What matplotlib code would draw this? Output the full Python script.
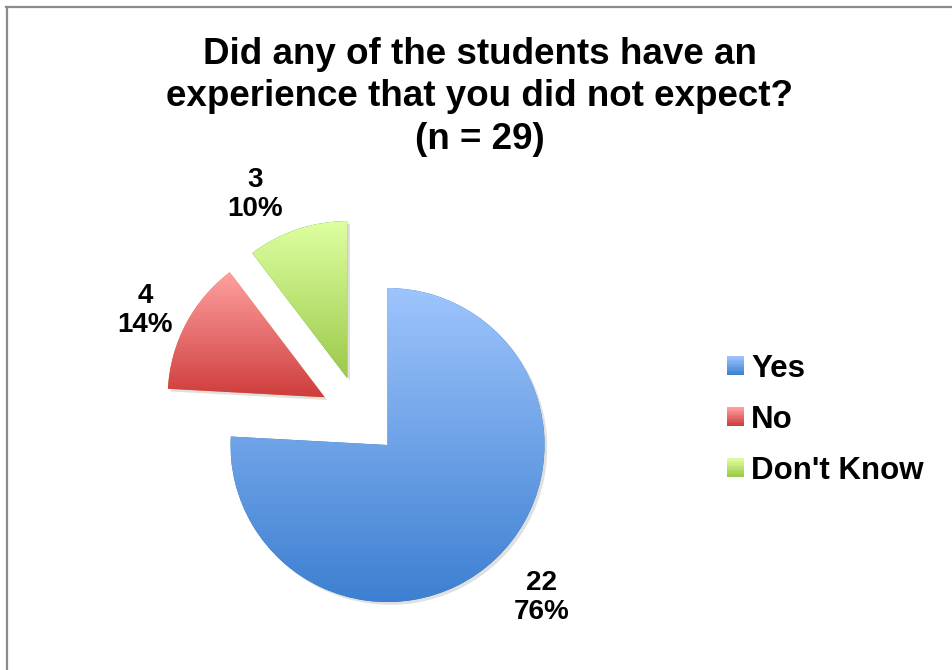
import numpy as np
import matplotlib
matplotlib.use('Agg')
import matplotlib.pyplot as plt
from matplotlib.patches import Rectangle, Shadow
from matplotlib.lines import Line2D
from matplotlib.legend_handler import HandlerBase

plt.rcParams['font.family'] = ['Liberation Sans', 'DejaVu Sans']

categories = ['Yes', 'No', "Don't Know"]
counts = [22, 4, 3]
title = 'Did any of the students have an\nexperience that you did not expect?\n(n = 29)'

# gradient colours (top, bottom) per slice
grad_top = [(0.62, 0.77, 0.99), (1.00, 0.63, 0.63), (0.87, 1.00, 0.63)]
grad_bot = [(0.24, 0.50, 0.82), (0.81, 0.24, 0.24), (0.61, 0.79, 0.29)]

# label placement (outside end), distance in radii and angle nudge in degrees
lab_dist = [1.38, 1.27, 1.31]
lab_nudge = [2, 2, 8]

W, H = 953, 670
R = 157
total = sum(counts)


def fmt(p):
    return f'{round(p * total / 100):d}\n{p:.0f}%'


class GradHandler(HandlerBase):
    def __init__(self, top, bot):
        super().__init__()
        self.top, self.bot = np.array(top), np.array(bot)

    def create_artists(self, legend, orig_handle, xdescent, ydescent,
                       width, height, fontsize, trans):
        n = 14
        arts = []
        for i in range(n):
            t = i / (n - 1)
            c = self.top * (1 - t) + self.bot * t
            r = Rectangle((-xdescent, -ydescent + height - (i + 1) * height / n),
                          width, height / n + 0.3, facecolor=c, edgecolor='none',
                          transform=trans)
            arts.append(r)
        return arts


fig = plt.figure(figsize=(W / 100, H / 100), dpi=100)
ax = fig.add_axes([0, 0, 1, 1])

wedges, texts, autotexts = ax.pie(
    counts, explode=[40, 40, 40], startangle=90, counterclock=False,
    radius=R, center=(360, 254), autopct=fmt, pctdistance=1.3,
    textprops=dict(fontsize=20, fontweight='bold', color='black', linespacing=1.15),
    wedgeprops=dict(linewidth=0))

for w, at, d, nd in zip(wedges, autotexts, lab_dist, lab_nudge):
    th = np.deg2rad((w.theta1 + w.theta2) / 2 + nd)
    cx, cy = w.center
    at.set_position((cx + d * R * np.cos(th), cy + d * R * np.sin(th)))

for w, top, bot in zip(wedges, grad_top, grad_bot):
    sh = Shadow(w, 2, -2)
    sh.set_facecolor('black')
    sh.set_alpha(0.12)
    sh.set_zorder(0)
    ax.add_patch(sh)
    ext = w.get_path().get_extents()
    t = np.linspace(0, 1, 256)[:, None, None]
    img = np.array(top)[None, None, :] * (1 - t) + np.array(bot)[None, None, :] * t
    im = ax.imshow(img, extent=[ext.x0, ext.x1, ext.y0, ext.y1], origin='upper',
                   aspect='auto', zorder=2, interpolation='bilinear')
    im.set_clip_path(w)

ax.set_xlim(0, W)
ax.set_ylim(0, H)
ax.axis('off')

fig.text(480 / W, 1 - 97 / H, title, ha='center', va='center', fontsize=26.5,
         fontweight='bold', linespacing=1.27)

handles = [Rectangle((0, 0), 1, 1) for _ in categories]
hmap = {h: GradHandler(t, b) for h, t, b in zip(handles, grad_top, grad_bot)}
fig.legend(handles, categories, handler_map=hmap, loc='upper left',
           bbox_to_anchor=(727 / W, 1 - 354 / H), frameon=False, borderpad=0,
           borderaxespad=0, prop=dict(size=22.5, weight='bold'),
           handlelength=0.55, handleheight=0.55, handletextpad=0.22,
           labelspacing=0.67)

fig.add_artist(Line2D([6 / W, 1], [1 - 7 / H, 1 - 7 / H], transform=fig.transFigure,
                      color='#8c8c8c', lw=1.6))
fig.add_artist(Line2D([7 / W, 7 / W], [0, 1 - 7 / H], transform=fig.transFigure,
                      color='#8c8c8c', lw=1.6))

fig.savefig('out.png', dpi=100)
